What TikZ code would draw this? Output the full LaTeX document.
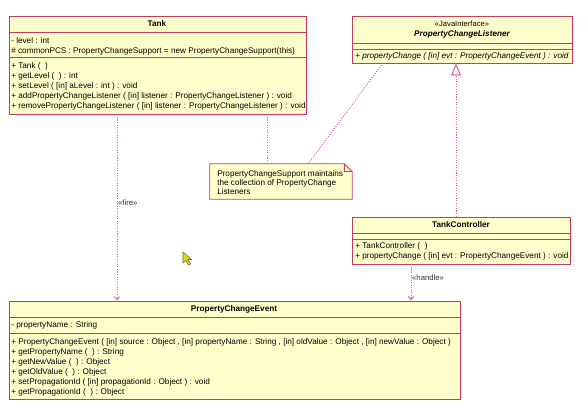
\documentclass[tikz,border=0pt]{standalone}
\usepackage{fontspec}
\setmainfont{Liberation Sans}
\usetikzlibrary{fit,arrows.meta,calc}
\definecolor{umlborder}{HTML}{C03C64}
\definecolor{umlfill}{HTML}{FFFFCC}
\definecolor{umldep}{HTML}{E0609A}
\begin{document}
\begin{tikzpicture}[x=0.75pt,y=-0.75pt,
  box/.style={draw=umlborder, fill=umlfill, line width=0.6pt, inner sep=0pt},
  txt/.style={anchor=west, inner sep=0pt, font=\fontsize{6.15}{7}\selectfont},
  ttl/.style={inner sep=0pt, font=\fontsize{6.15}{7}\selectfont\bfseries},
  sep/.style={draw=umlborder, line width=0.6pt},
  dep/.style={draw=umldep, line width=0.75pt, dash pattern=on 0.8pt off 1.1pt},
  opentip/.style={-{Straight Barb[length=2.5pt,width=4pt]}},
  gentip/.style={-{Triangle[open,fill=white,length=9pt,width=7.5pt]}},
]
\useasboundingbox (0,0) rectangle (588,411);
\fill[white] (0,0) rectangle (588,411);

% ---------- Tank ----------
\coordinate (tankA) at (9,16); \coordinate (tankB) at (306,114);
\node[box, fit=(tankA)(tankB)] (tank) {};
\draw[sep] (9,32) -- (306,32);
\draw[sep] (9,57) -- (306,57);
\node[ttl] (tankT) at (157,24) {Tank};
\node[txt] (tank1) at (11,41) {- level : int};
\node[txt] (tank2) at (11,51) {\# commonPCS : PropertyChangeSupport = new PropertyChangeSupport(this)};
\node[txt] (tank3) at (11,66.5) {+ Tank ( \ )};
\node[txt] (tank4) at (11,76.5) {+ getLevel ( \ ) : int};
\node[txt] (tank5) at (11,86.5) {+ setLevel ( [in] aLevel : int ) : void};
\node[txt] (tank6) at (11,96.5) {+ addPropertyChangeListener ( [in] listener : PropertyChangeListener ) : void};
\node[txt] (tank7) at (11,106.5) {+ removePropertyChangeListener ( [in] listener : PropertyChangeListener ) : void};

% ---------- PropertyChangeListener ----------
\coordinate (lisA) at (352,16); \coordinate (lisB) at (572,63);
\node[box, fit=(lisA)(lisB)] (lis) {};
\draw[sep] (352,43) -- (572,43);
\draw[sep] (352,49) -- (572,49);
\node[inner sep=0pt, font=\fontsize{5.7}{6}\selectfont] (lisS) at (462,24) {«JavaInterface»};
\node[ttl, font=\fontsize{6.15}{7}\selectfont\bfseries\itshape] (lisT) at (462,34) {PropertyChangeListener};
\node[txt, font=\fontsize{6.15}{7}\selectfont\itshape] (lis1) at (355,56) {+ propertyChange ( [in] evt : PropertyChangeEvent ) : void};

% ---------- Note ----------
\coordinate (noteA) at (210,164); \coordinate (noteB) at (352,199);
\node[inner sep=0pt, fit=(noteA)(noteB)] (note) {};
\filldraw[draw=umlborder, fill=umlfill, line width=0.6pt]
  (note.north west) -- ([xshift=-6pt]note.north east) -- ([yshift=-6pt]note.north east)
  -- (note.south east) -- (note.south west) -- cycle;
\draw[umlborder, line width=0.6pt] ([xshift=-6pt]note.north east) -- ([xshift=-6pt,yshift=-6pt]note.north east) -- ([yshift=-6pt]note.north east);
\node[txt] (note1) at (217,174) {PropertyChangeSupport maintains};
\node[txt] (note2) at (217,183) {the collection of PropertyChange};
\node[txt] (note3) at (217,192) {Listeners};

% ---------- TankController ----------
\coordinate (tcA) at (352,217); \coordinate (tcB) at (570,264);
\node[box, fit=(tcA)(tcB)] (tc) {};
\draw[sep] (352,233) -- (570,233);
\draw[sep] (352,239) -- (570,239);
\node[ttl] (tcT) at (461,225) {TankController};
\node[txt] (tc1) at (355,246) {+ TankController ( \ )};
\node[txt] (tc2) at (355,256) {+ propertyChange ( [in] evt : PropertyChangeEvent ) : void};

% ---------- PropertyChangeEvent ----------
\coordinate (peA) at (9,301); \coordinate (peB) at (460,399);
\node[box, fit=(peA)(peB)] (pe) {};
\draw[sep] (9,317) -- (460,317);
\draw[sep] (9,333) -- (460,333);
\node[ttl] (peT) at (234,309) {PropertyChangeEvent};
\node[txt] (pe0) at (11,325) {- propertyName : String};
\node[txt] (pe1) at (11,342) {+ PropertyChangeEvent ( [in] source : Object , [in] propertyName : String , [in] oldValue : Object , [in] newValue : Object )};
\node[txt] (pe2) at (11,352) {+ getPropertyName ( \ ) : String};
\node[txt] (pe3) at (11,362) {+ getNewValue ( \ ) : Object};
\node[txt] (pe4) at (11,372) {+ getOldValue ( \ ) : Object};
\node[txt] (pe5) at (11,382) {+ setPropagationId ( [in] propagationId : Object ) : void};
\node[txt] (pe6) at (11,392) {+ getPropagationId ( \ ) : Object};

% ---------- Connectors ----------
\coordinate (fx) at (117,0);
\coordinate (nx) at (267,0);
\coordinate (hx) at (411,0);
\coordinate (gx) at (456,0);
\draw[dep, opentip] (fx |- tank.south) -- (fx |- pe.north)
  node[pos=0.475, right=0.5pt, inner sep=0pt, text=black!80, font=\fontsize{5.8}{6}\selectfont] (fireL) {«fire»};
\draw[dep] (nx |- tank.south) -- (nx |- note.north);
\coordinate (lnA) at (383,63); \coordinate (lnB) at (308,164);
\draw[dep] (lnA) -- (lnB);
\draw[dep, gentip] (gx |- tc.north) -- (gx |- lis.south);
\draw[dep, opentip] (hx |- tc.south) -- (hx |- pe.north)
  node[pos=0.38, right=0.5pt, inner sep=0pt, text=black!80, font=\fontsize{5.8}{6}\selectfont] (handleL) {«handle»};

% ---------- mouse pointer ----------
\filldraw[fill=yellow!75!olive, draw=black!60, line width=0.4pt]
  (183,252) -- (183,263) -- (186,260.5) -- (188.5,265) -- (190.5,264) -- (188,259.5) -- (191.5,259.5) -- cycle;
\end{tikzpicture}
\end{document}
